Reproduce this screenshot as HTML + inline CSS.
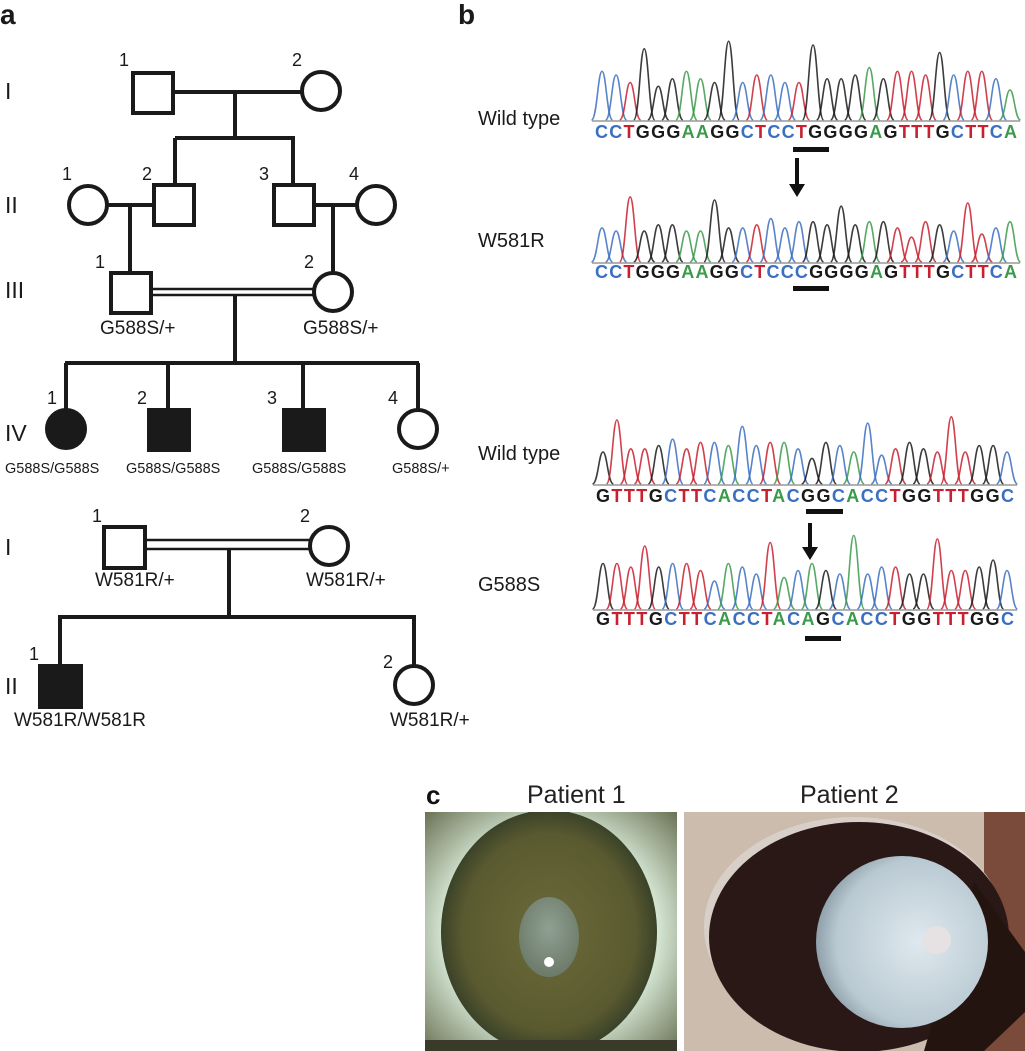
<!DOCTYPE html>
<html><head><meta charset="utf-8"><style>
html,body{margin:0;padding:0;background:#fff}
svg{display:block}
text{font-family:"Liberation Sans",sans-serif}
.seq{font-family:"Liberation Mono",monospace;font-weight:bold;font-size:18px}
</style></head><body>
<svg id="s" width="1025" height="1051" viewBox="0 0 1025 1051" xmlns="http://www.w3.org/2000/svg">
<defs>
<radialGradient id="ir1" cx="0.5" cy="0.5" r="0.5"><stop offset="0" stop-color="#6a6a3a"/><stop offset="0.8" stop-color="#5a5a30"/><stop offset="1" stop-color="#3a4228"/></radialGradient>
<radialGradient id="sc1" cx="0.5" cy="0.5" r="0.75"><stop offset="0.55" stop-color="#d8ead8"/><stop offset="1" stop-color="#5a6040"/></radialGradient>
<radialGradient id="pu1" cx="0.5" cy="0.4" r="0.6"><stop offset="0" stop-color="#8fa092"/><stop offset="1" stop-color="#6c7a68"/></radialGradient>
<radialGradient id="ln2" cx="0.6" cy="0.5" r="0.6"><stop offset="0" stop-color="#dfe8ee"/><stop offset="0.8" stop-color="#b9c9d2"/><stop offset="1" stop-color="#8fa0aa"/></radialGradient>
</defs>
<g fill="none" stroke="#1a1a1a" stroke-width="4">
<rect x="133" y="73" width="40" height="40"/>
<circle cx="321" cy="91" r="19"/>
<line x1="173" y1="92" x2="302" y2="92"/>
<line x1="235" y1="92" x2="235" y2="138"/>
<line x1="175" y1="138" x2="295" y2="138"/>
<line x1="175" y1="138" x2="175" y2="185"/>
<line x1="293" y1="138" x2="293" y2="185"/>
<circle cx="88" cy="205" r="19"/>
<rect x="154" y="185" width="40" height="40"/>
<rect x="274" y="185" width="40" height="40"/>
<circle cx="376" cy="205" r="19"/>
<line x1="107" y1="205" x2="154" y2="205"/>
<line x1="314" y1="205" x2="357" y2="205"/>
<line x1="130" y1="205" x2="130" y2="273"/>
<line x1="333" y1="205" x2="333" y2="273"/>
<rect x="111" y="273" width="40" height="40"/>
<circle cx="333" cy="292" r="19"/>
<line x1="151" y1="289" x2="314" y2="289" stroke-width="2.5"/>
<line x1="151" y1="295" x2="314" y2="295" stroke-width="2.5"/>
<line x1="235" y1="296" x2="235" y2="363"/>
<line x1="65" y1="363" x2="419" y2="363"/>
<line x1="66" y1="363" x2="66" y2="410"/>
<line x1="168" y1="363" x2="168" y2="410"/>
<line x1="303" y1="363" x2="303" y2="410"/>
<line x1="418" y1="363" x2="418" y2="410"/>
<circle cx="66" cy="429" r="19" fill="#1a1a1a"/>
<rect x="149" y="410" width="40" height="40" fill="#1a1a1a"/>
<rect x="284" y="410" width="40" height="40" fill="#1a1a1a"/>
<circle cx="418" cy="429" r="19"/>
<rect x="104" y="527" width="41" height="41"/>
<circle cx="329" cy="546" r="19"/>
<line x1="145" y1="540" x2="310" y2="540" stroke-width="2.5"/>
<line x1="145" y1="549" x2="310" y2="549" stroke-width="2.5"/>
<line x1="229" y1="550" x2="229" y2="617"/>
<line x1="58" y1="617" x2="416" y2="617"/>
<line x1="60" y1="617" x2="60" y2="666"/>
<line x1="414" y1="617" x2="414" y2="666"/>
<rect x="40" y="666" width="41" height="41" fill="#1a1a1a"/>
<circle cx="414" cy="685" r="19"/>
</g>
<g font-size="18" fill="#1a1a1a">
<text x="0" y="24" font-size="28" font-weight="bold">a</text>
<text x="5" y="99" font-size="23">I</text>
<text x="5" y="213" font-size="23">II</text>
<text x="5" y="298" font-size="23">III</text>
<text x="5" y="441" font-size="23">IV</text>
<text x="5" y="555" font-size="23">I</text>
<text x="5" y="694" font-size="23">II</text>
<text x="119" y="66">1</text><text x="292" y="66">2</text>
<text x="62" y="180">1</text><text x="142" y="180">2</text><text x="259" y="180">3</text><text x="349" y="180">4</text>
<text x="95" y="268">1</text><text x="304" y="268">2</text>
<text x="47" y="404">1</text><text x="137" y="404">2</text><text x="267" y="404">3</text><text x="388" y="404">4</text>
<text x="92" y="522">1</text><text x="300" y="522">2</text>
<text x="29" y="660">1</text><text x="383" y="668">2</text>
<text x="100" y="334" font-size="19">G588S/+</text><text x="303" y="334" font-size="19">G588S/+</text>
<text x="5" y="473" font-size="14.5">G588S/G588S</text>
<text x="126" y="473" font-size="14.5">G588S/G588S</text>
<text x="252" y="473" font-size="14.5">G588S/G588S</text>
<text x="392" y="473" font-size="14.5">G588S/+</text>
<text x="95" y="586" font-size="19">W581R/+</text><text x="306" y="586" font-size="19">W581R/+</text>
<text x="14" y="726" font-size="19">W581R/W581R</text><text x="390" y="726" font-size="19">W581R/+</text>
<text x="458" y="24" font-size="28" font-weight="bold">b</text>
<text x="478" y="125" font-size="20">Wild type</text>
<text x="478" y="247" font-size="20">W581R</text>
<text x="478" y="460" font-size="20">Wild type</text>
<text x="478" y="591" font-size="20">G588S</text>
</g>
<g id="chrom"></g>
<g class="seq">
<text id="q1" x="595" y="138" textLength="422" lengthAdjust="spacing"></text>
<text id="q2" x="595" y="278" textLength="422" lengthAdjust="spacing"></text>
<text id="q3" x="596" y="502" textLength="418" lengthAdjust="spacing"></text>
<text id="q4" x="596" y="625" textLength="418" lengthAdjust="spacing"></text>
</g>
<g fill="#111">
<rect x="793" y="147" width="36" height="5"/>
<rect x="793" y="286" width="36" height="5"/>
<rect x="806" y="509" width="37" height="5"/>
<rect x="805" y="636" width="36" height="5"/>
<rect x="795" y="158" width="4" height="28"/><polygon points="789,184 805,184 797,197"/>
<rect x="808" y="523" width="4" height="26"/><polygon points="802,547 818,547 810,560"/>
</g>
<text x="426" y="804" font-size="26" font-weight="bold" fill="#111">c</text>
<text x="527" y="803" font-size="25" fill="#222">Patient 1</text>
<text x="800" y="803" font-size="25" fill="#222">Patient 2</text>
<svg x="425" y="812" width="252" height="239">
<rect width="252" height="239" fill="#ccdcc6"/>
<rect width="252" height="239" fill="url(#sc1)"/>
<ellipse cx="124" cy="120" rx="108" ry="122" fill="url(#ir1)"/>
<ellipse cx="124" cy="125" rx="30" ry="40" fill="url(#pu1)"/>
<circle cx="124" cy="150" r="5" fill="#fff"/>
<rect y="228" width="252" height="11" fill="#3a3a28"/>
</svg>
<svg x="684" y="812" width="341" height="239">
<rect width="341" height="239" fill="#cbbcae"/>
<rect x="300" width="41" height="239" fill="#7a4a3a"/>
<ellipse cx="170" cy="115" rx="150" ry="110" fill="#d8d0c8"/>
<ellipse cx="175" cy="125" rx="150" ry="115" fill="#2a1816"/>
<path d="M290 70 L341 140 L341 200 L300 239 L240 239 Z" fill="#24140f"/>
<circle cx="218" cy="130" r="86" fill="url(#ln2)"/>
<circle cx="253" cy="128" r="14" fill="#e6e2e4"/>
</svg>
</svg>
<script>
var col={A:"#3a9a4a",C:"#3b6fc0",G:"#1a1a1a",T:"#c8202e"};
var seqs=[["CCTGGGAAGGCTCCTGGGGAGTTTGCTTCA",595,422,120,75,"q1"],
["CCTGGGAAGGCTCCCGGGGAGTTTGCTTCA",595,422,262,62,"q2"],
["GTTTGCTTCACCTACGGCACCTGGTTTGGC",596,418,484,64,"q3"],
["GTTTGCTTCACCTACAGCACCTGGTTTGGC",596,418,609,70,"q4"]];
var NS="http://www.w3.org/2000/svg",g=document.getElementById("chrom");
var hts=[.55,.5,.4,.85,.35,.45,.55,.45,.4,.95,.4,.5,.5,.4,.4,.9,.45,.45,.5,.6,.45,.55,.55,.5,.8,.5,.55,.55,.45,.3];
seqs.forEach(function(s,k){
 var str=s[0],n=str.length,w=s[2]/n,t=document.getElementById(s[5]);
 for(var i=0;i<n;i++){
  var ts=document.createElementNS(NS,"tspan");ts.setAttribute("fill",col[str[i]]);ts.textContent=str[i];t.appendChild(ts);
  var x=s[1]+w*(i+0.5),b=s[3],h=s[4]*(hts[(i+k*7)%hts.length]+0.1),top=b-h;
  var p=document.createElementNS(NS,"path");
  p.setAttribute("d","M"+(x-w*0.75)+" "+b+" C"+(x-w*0.35)+" "+b+" "+(x-w*0.3)+" "+top+" "+x+" "+top+" C"+(x+w*0.3)+" "+top+" "+(x+w*0.35)+" "+b+" "+(x+w*0.75)+" "+b);
  p.setAttribute("fill","none");p.setAttribute("stroke",col[str[i]]);p.setAttribute("stroke-width","1.6");p.setAttribute("opacity","0.85");
  g.appendChild(p);
 }
 var l=document.createElementNS(NS,"line");l.setAttribute("x1",s[1]-3);l.setAttribute("x2",s[1]+s[2]+3);l.setAttribute("y1",s[3]+1);l.setAttribute("y2",s[3]+1);l.setAttribute("stroke","#999");l.setAttribute("stroke-width","1.5");g.appendChild(l);
});
</script>
</body></html>
